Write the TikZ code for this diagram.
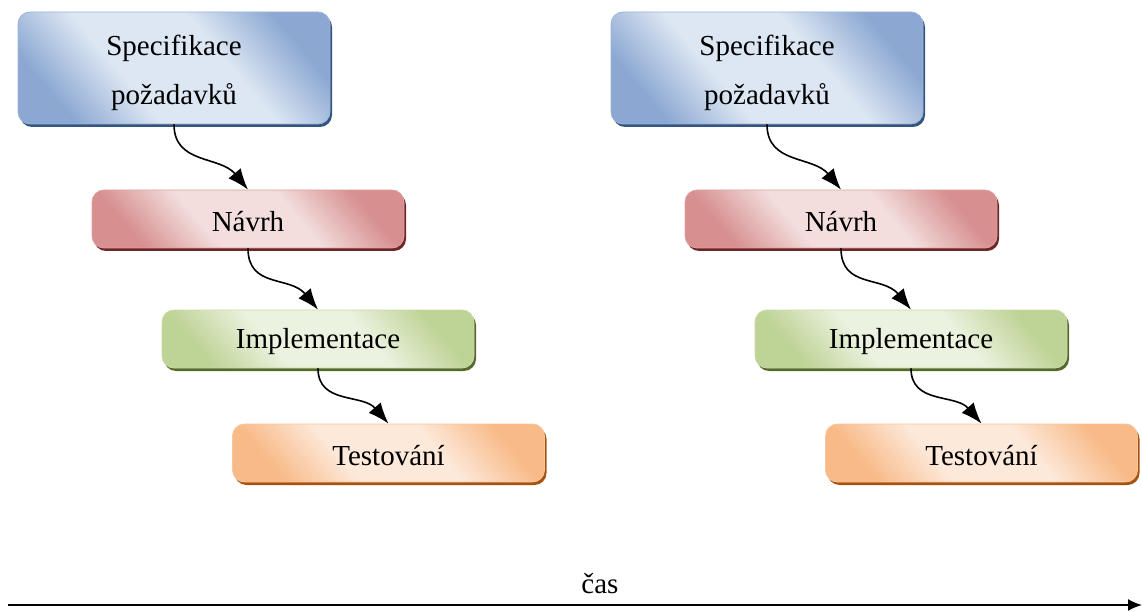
\documentclass[tikz,border=0pt]{standalone}
\usepackage{fontspec}
\setmainfont{Liberation Serif}
\usetikzlibrary{arrows.meta,shadows}
\definecolor{Bdark}{HTML}{8CA8D2}
\definecolor{Blight}{HTML}{DDE7F3}
\definecolor{Bedge}{HTML}{9AB5DA}
\definecolor{Bshadow}{HTML}{34557F}
\definecolor{Rdark}{HTML}{D78F8F}
\definecolor{Rlight}{HTML}{F3DDDD}
\definecolor{Redge}{HTML}{DFA2A2}
\definecolor{Rshadow}{HTML}{6B2626}
\definecolor{Gdark}{HTML}{BED396}
\definecolor{Glight}{HTML}{EBF2DF}
\definecolor{Gedge}{HTML}{C9DBA6}
\definecolor{Gshadow}{HTML}{56692C}
\definecolor{Odark}{HTML}{F8BA88}
\definecolor{Olight}{HTML}{FDE9DA}
\definecolor{Oedge}{HTML}{F9C59A}
\definecolor{Oshadow}{HTML}{A65210}
\pgfdeclareverticalshading{blueS}{100bp}{color(0bp)=(Bdark); color(25bp)=(Bdark); color(40bp)=(Blight); color(60bp)=(Blight); color(75bp)=(Bdark); color(100bp)=(Bdark)}
\pgfdeclareverticalshading{redS}{100bp}{color(0bp)=(Rdark); color(25bp)=(Rdark); color(40bp)=(Rlight); color(60bp)=(Rlight); color(75bp)=(Rdark); color(100bp)=(Rdark)}
\pgfdeclareverticalshading{greenS}{100bp}{color(0bp)=(Gdark); color(25bp)=(Gdark); color(40bp)=(Glight); color(60bp)=(Glight); color(75bp)=(Gdark); color(100bp)=(Gdark)}
\pgfdeclareverticalshading{orangeS}{100bp}{color(0bp)=(Odark); color(25bp)=(Odark); color(40bp)=(Olight); color(60bp)=(Olight); color(75bp)=(Odark); color(100bp)=(Odark)}
\tikzset{
  box/.style={rounded corners=12pt, minimum width=312pt, minimum height=58pt,
    inner sep=0pt, line width=0.8pt, shading angle=-50},
  boxtext/.style={inner sep=0pt, align=center, text=black, font=\fontsize{29}{49}\selectfont},
  bluebox/.style={box, draw=Bedge, shading=blueS,
    drop shadow={shadow xshift=2pt, shadow yshift=-3pt, fill=Bshadow, opacity=1}},
  redbox/.style={box, draw=Redge, shading=redS,
    drop shadow={shadow xshift=2pt, shadow yshift=-3pt, fill=Rshadow, opacity=1}},
  greenbox/.style={box, draw=Gedge, shading=greenS,
    drop shadow={shadow xshift=2pt, shadow yshift=-3pt, fill=Gshadow, opacity=1}},
  orangebox/.style={box, draw=Oedge, shading=orangeS,
    drop shadow={shadow xshift=2pt, shadow yshift=-3pt, fill=Oshadow, opacity=1}},
  flow/.style={line width=1.6pt, -{Latex[length=21pt,width=16pt]}},
}
\begin{document}
\begin{tikzpicture}[x=1pt,y=-1pt]
\useasboundingbox (0,0) rectangle (1142,612);
\foreach \dx/\k in {0/a,593/b}{
  \node[bluebox, minimum height=112pt] (s\k) at (174+\dx,68) {};
  \node[redbox] (n\k) at (248+\dx,219) {};
  \node[greenbox] (i\k) at (318+\dx,339) {};
  \node[orangebox] (t\k) at (388.5+\dx,453) {};
  \node[boxtext] (s\k t) at ([yshift=-5pt]s\k.center) {Specifikace\\po\v{z}adavk\r{u}};
  \node[boxtext] (n\k t) at ([yshift=-3pt]n\k.center) {Návrh};
  \node[boxtext] (i\k t) at ([yshift=-3pt]i\k.center) {Implementace};
  \node[boxtext] (t\k t) at ([yshift=-3pt]t\k.center) {Testování};
  \draw[flow] (s\k.south) .. controls +(0,40) and +(-28,-34) .. (n\k.north);
  \draw[flow] (n\k.south) .. controls +(0,40) and +(-28,-34) .. (i\k.north);
  \draw[flow] (i\k.south) .. controls +(0,36) and +(-26,-30) .. (t\k.north);
}
\coordinate (ta) at (8,605);
\coordinate (tb) at (1142,605);
\draw[line width=1.8pt, -{Latex[length=14pt,width=12pt]}] (ta) -- (tb);
\node[font=\fontsize{29}{34}\selectfont] (cas) at (600,584) {čas};
\end{tikzpicture}
\end{document}
